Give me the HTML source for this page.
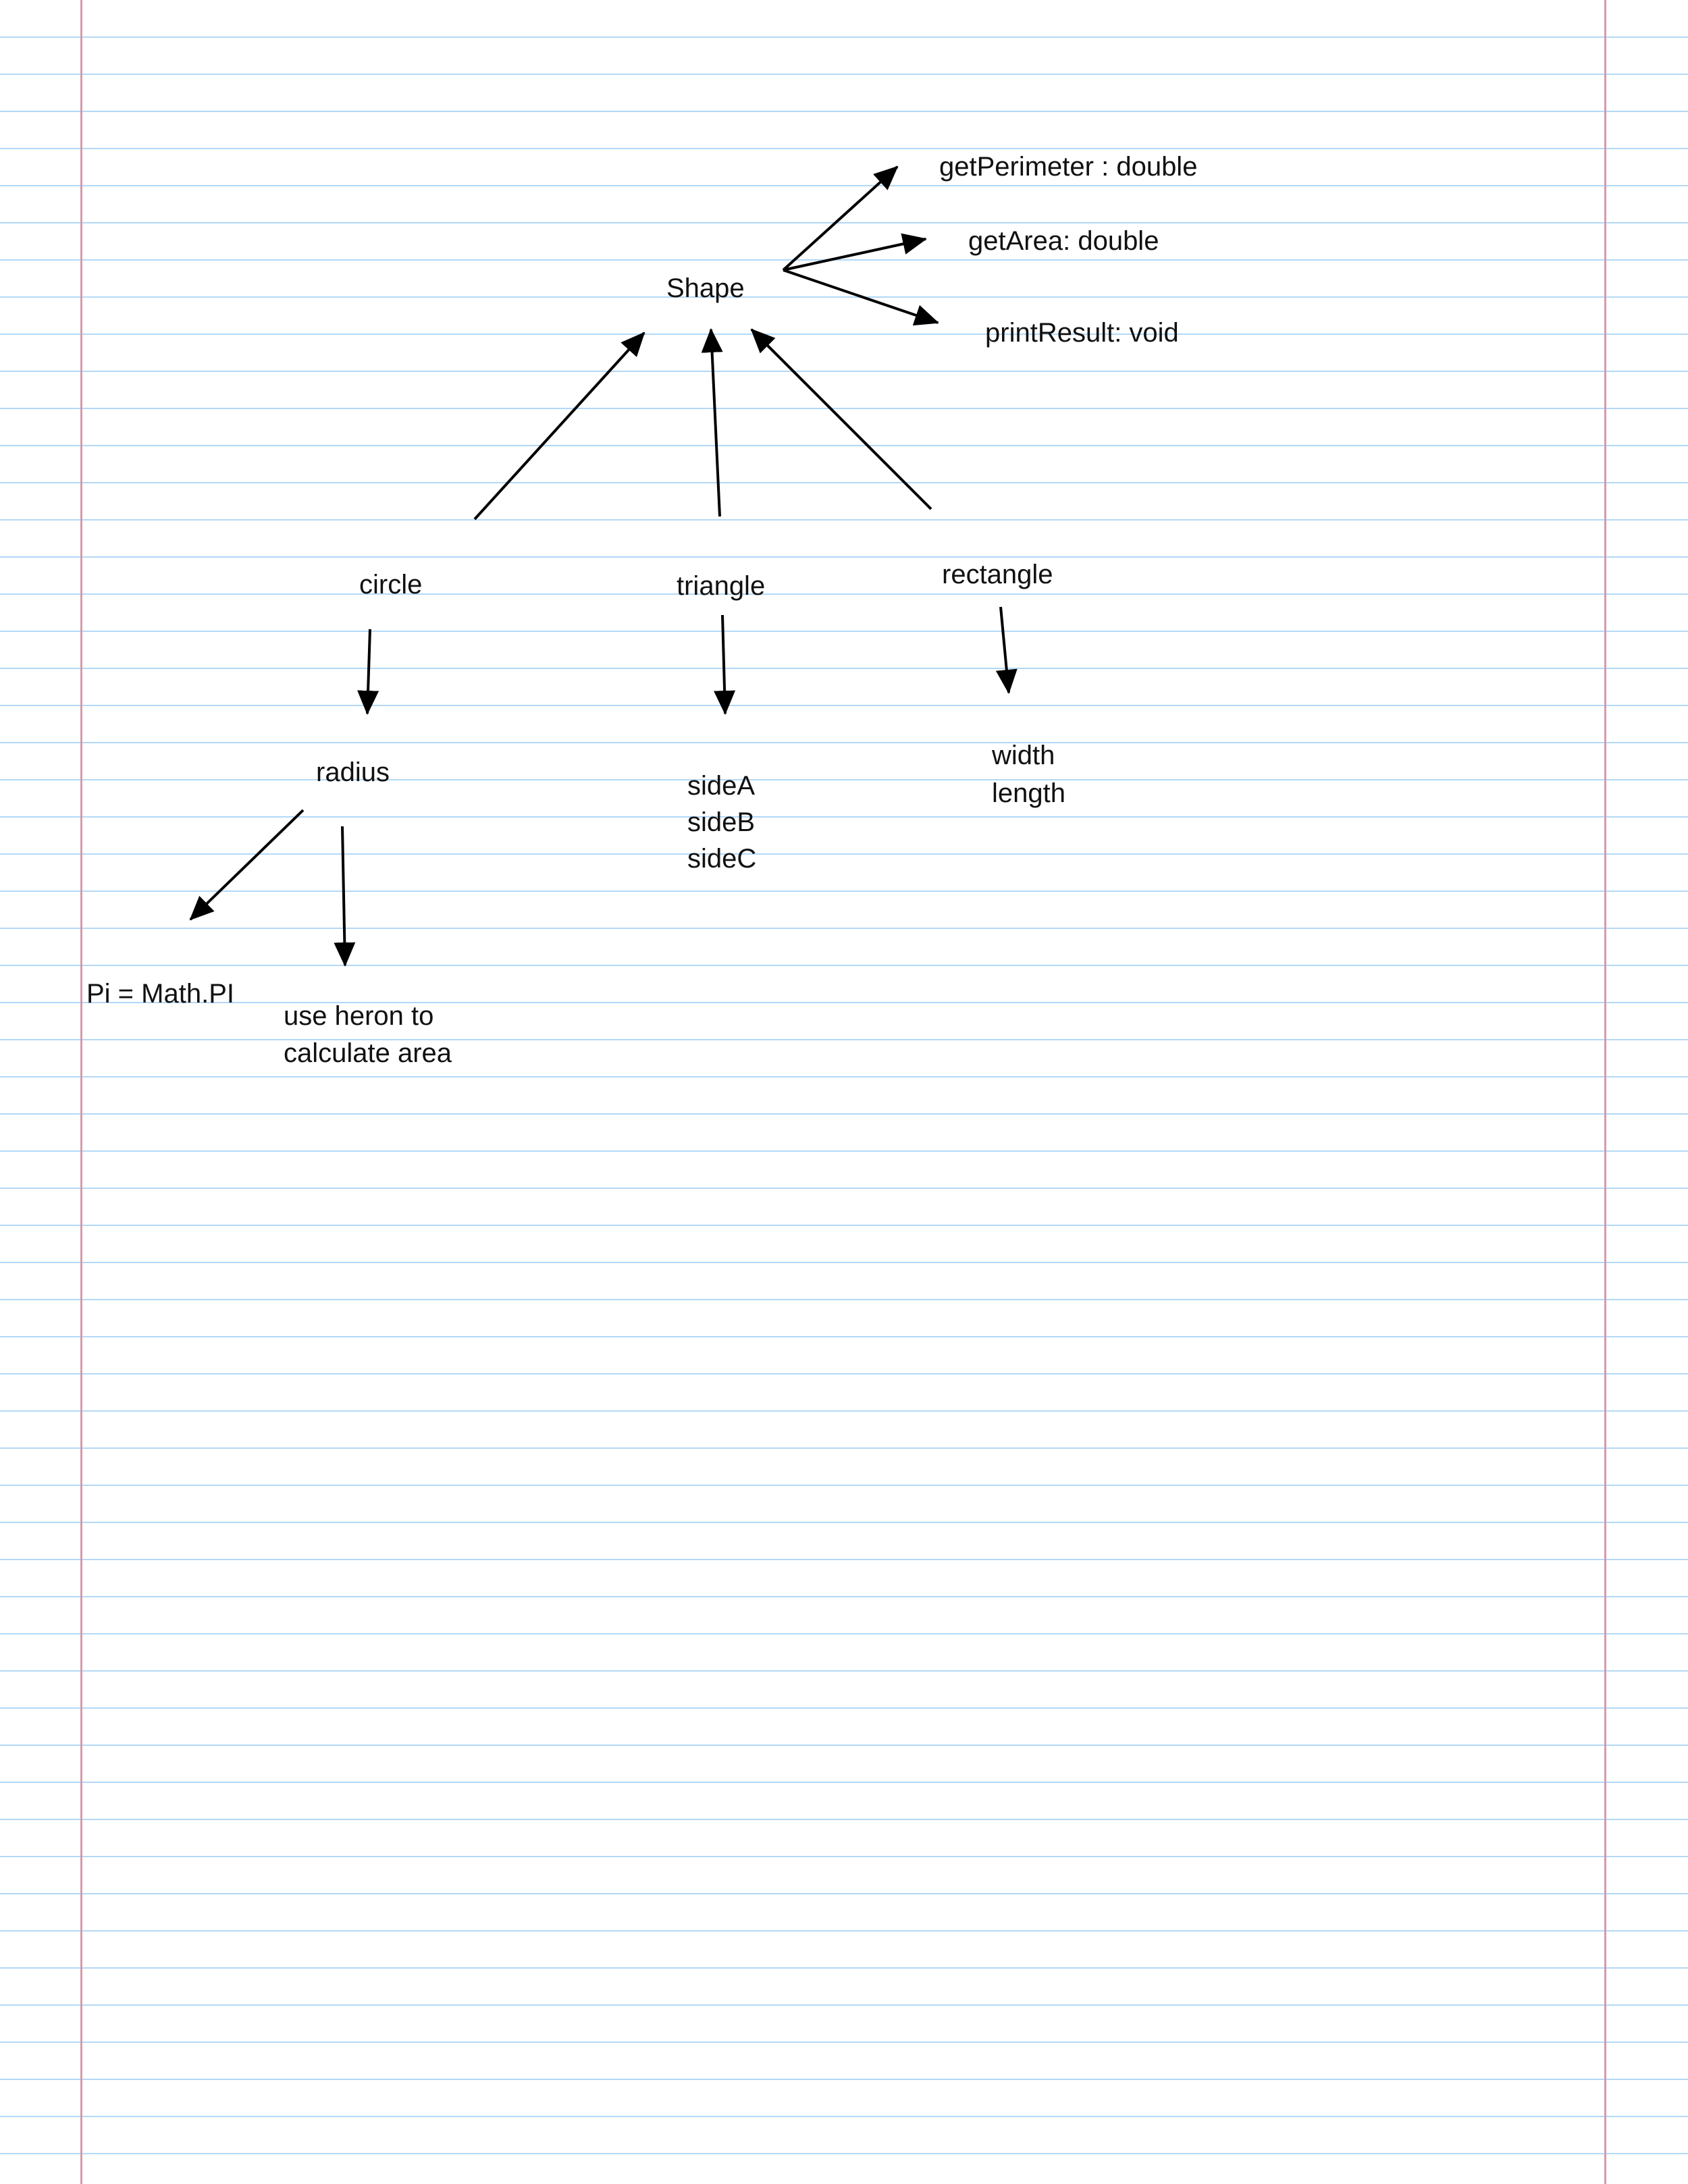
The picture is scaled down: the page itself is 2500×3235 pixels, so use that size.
<!DOCTYPE html>
<html><head><meta charset="utf-8"><style>
html,body{margin:0;padding:0;background:#fff;}
svg{display:block;}
text{font-family:"Liberation Sans",sans-serif;font-size:40px;fill:#111;dominant-baseline:central;}
</style></head><body>
<svg id="s" width="2500" height="3235" viewBox="0 0 2500 3235" xmlns="http://www.w3.org/2000/svg">
<defs>
<marker id="a" markerUnits="userSpaceOnUse" markerWidth="36" markerHeight="32" refX="34" refY="16" orient="auto">
<path d="M0,0 L36,16 L0,32 Z" fill="#000"/>
</marker>
</defs>
<rect width="2500" height="3235" fill="#fff"/>
<g id="lines" fill="#b3d8f6"></g>
<rect x="119" y="0" width="3" height="3235" fill="#d49aab"/>
<rect x="2376" y="0" width="3" height="3235" fill="#d49aab"/>
<g stroke="#000" stroke-width="4" fill="none" marker-end="url(#a)">
<line x1="1160" y1="400" x2="1329" y2="247"/>
<line x1="1160" y1="400" x2="1371" y2="354"/>
<line x1="1160" y1="400" x2="1389" y2="478"/>
<line x1="703" y1="769" x2="954" y2="493"/>
<line x1="1066" y1="765" x2="1053" y2="488"/>
<line x1="1379" y1="754" x2="1113" y2="488"/>
<line x1="548" y1="932" x2="544" y2="1057"/>
<line x1="1070" y1="911" x2="1074" y2="1057"/>
<line x1="1482" y1="899" x2="1494" y2="1026"/>
<line x1="449" y1="1200" x2="282" y2="1362"/>
<line x1="507" y1="1224" x2="511" y2="1430"/>
</g>
<text x="987" y="427">Shape</text>
<text x="1391" y="247">getPerimeter : double</text>
<text x="1434" y="357">getArea: double</text>
<text x="1459" y="493">printResult: void</text>
<text x="532" y="866">circle</text>
<text x="1002" y="868">triangle</text>
<text x="1395" y="851">rectangle</text>
<text x="468" y="1144">radius</text>
<text x="1018" y="1164">sideA</text>
<text x="1018" y="1218">sideB</text>
<text x="1018" y="1272">sideC</text>
<text x="1469" y="1119">width</text>
<text x="1469" y="1175">length</text>
<text x="128" y="1472">Pi = Math.PI</text>
<text x="420" y="1505">use heron to</text>
<text x="420" y="1560">calculate area</text>
</svg>
<script>
var g=document.getElementById('lines'),h='';
for(var y=54;y<3235;y+=55){h+='<rect x="0" y="'+y+'" width="2500" height="2"/>';}
g.innerHTML=h;
</script>
</body></html>
